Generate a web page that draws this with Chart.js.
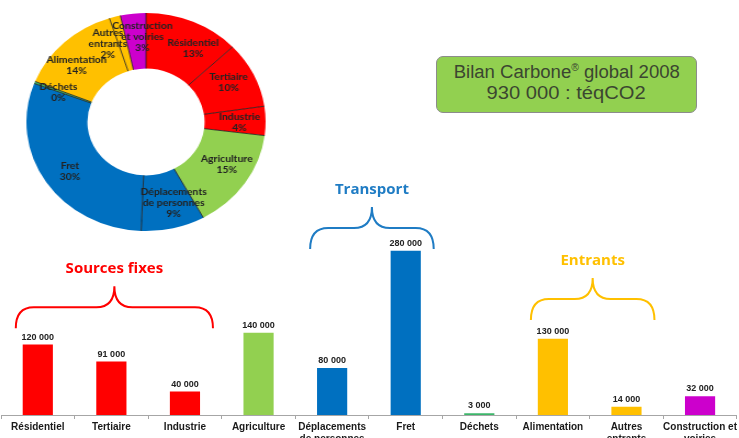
<!DOCTYPE html>
<html>
<head>
<meta charset="utf-8">
<script src="https://cdn.jsdelivr.net/npm/chart.js@4/dist/chart.umd.min.js"></script>
<style>
  html, body { margin: 0; padding: 0; background: #fff; overflow: hidden; }
  #wrap { position: relative; width: 739px; height: 438px; }
  #bars { position: absolute; left: 0; top: 0; }
  #donut { position: absolute; left: 26px; top: 2px; transform: scaleX(1.097); transform-origin: 50% 50%; }
  #bilan {
    position: absolute; left: 436px; top: 56px; width: 259px; height: 50px;
    background: #92d050; border: 1px solid #8c8c8c; border-radius: 7px;
    font-family: 'Liberation Sans', Arial, sans-serif; font-size: 18px; line-height: 21px;
    color: #3b4630; text-align: center; padding-top: 5px; box-sizing: content-box;
  }
  #bilan span { display: inline-block; transform: scaleX(1.03); }
  #bilan span.l2 { transform: scaleX(1.12); }
  #bilan sup { font-size: 10px; line-height: 0; }
</style>
</head>
<body>
<div id="wrap">
  <canvas id="bars" width="739" height="438"></canvas>
  <canvas id="donut" width="240" height="240"></canvas>
  <div id="bilan"><span>Bilan Carbone<sup>®</sup> global 2008</span><br><span class="l2">930 000 : téqCO2</span></div>
</div>
<script>
// postes du bilan (téqCO2)
var categories = [
  'Résidentiel', 'Tertiaire', 'Industrie', 'Agriculture',
  ['Déplacements', 'de personnes'], 'Fret', 'Déchets', 'Alimentation',
  ['Autres', 'entrants'], ['Construction et', 'voiries']
];
var values = [120000, 91000, 40000, 140000, 80000, 280000, 3000, 130000, 14000, 32000];
var colors = ['#ff0000', '#ff0000', '#ff0000', '#92d050', '#0070c0', '#0070c0', '#3cb66a', '#ffc000', '#ffc000', '#cc00cc'];

// étiquettes du camembert
var donutLabels = [
  ['Résidentiel', '13%'], ['Tertiaire', '10%'], ['Industrie', '4%'], ['Agriculture', '15%'],
  ['Déplacements', 'de personnes', '9%'], ['Fret', '30%'], ['Déchets', '0%'], ['Alimentation', '14%'],
  ['Autres', 'entrants', '2%'], ['Construction', 'et voiries', '3%']
];
// décalage angulaire des étiquettes (degrés) pour éviter les chevauchements
var labelShift = [7, -2, 1, -4, -4, -2, -1, -5, -9, 4];

// accolades de regroupement
var groupNames = ['Sources fixes', 'Transport', 'Entrants'];
var groupFrom = [0, 4, 7];
var groupTo = [2, 5, 8];
var groupLevel = [148000, 283000, 162000];
var groupColors = ['#ff0000', '#1f7cc4', '#ffc000'];

function fmt(v) {
  return String(v).replace(/\B(?=(\d{3})+(?!\d))/g, ' ');
}

var barExtras = {
  id: 'barExtras',
  afterDatasetsDraw: function (chart) {
    var ctx = chart.ctx;
    var meta = chart.getDatasetMeta(0);
    ctx.save();
    ctx.fillStyle = '#222';
    ctx.font = 'bold 9px "Liberation Sans", Arial, sans-serif';
    ctx.textAlign = 'center';
    ctx.textBaseline = 'bottom';
    meta.data.forEach(function (bar, i) {
      ctx.fillText(fmt(values[i]), bar.x, bar.y - 3);
    });

    var xs = chart.scales.x, ys = chart.scales.y;
    groupNames.forEach(function (name, g) {
      var x1 = xs.getPixelForValue(groupFrom[g]) - 22;
      var x2 = xs.getPixelForValue(groupTo[g]) + 28;
      var xm = (x1 + x2) / 2;
      var yb = ys.getPixelForValue(groupLevel[g]);
      var yh = yb - 21, yp = yb - 42;
      ctx.strokeStyle = groupColors[g];
      ctx.lineWidth = 2;
      ctx.beginPath();
      ctx.moveTo(x1, yb);
      ctx.quadraticCurveTo(x1, yh, x1 + 18, yh);
      ctx.lineTo(xm - 18, yh);
      ctx.quadraticCurveTo(xm, yh, xm, yp);
      ctx.quadraticCurveTo(xm, yh, xm + 18, yh);
      ctx.lineTo(x2 - 18, yh);
      ctx.quadraticCurveTo(x2, yh, x2, yb);
      ctx.stroke();
      ctx.fillStyle = groupColors[g];
      ctx.font = 'bold 15px "Open Sans", sans-serif';
      ctx.textBaseline = 'middle';
      ctx.fillText(name, xm, yp - 17);
    });
    ctx.restore();
  }
};

new Chart(document.getElementById('bars'), {
  type: 'bar',
  data: {
    labels: categories,
    datasets: [{
      data: values,
      backgroundColor: colors,
      barPercentage: 0.41,
      categoryPercentage: 1
    }]
  },
  options: {
    responsive: false,
    animation: false,
    layout: { padding: { top: 239, left: 1, right: 0, bottom: 0 } },
    plugins: { legend: { display: false }, tooltip: { enabled: false } },
    scales: {
      x: {
        grid: { display: true, drawOnChartArea: false, drawTicks: true, tickLength: 4, color: '#a6a6a6', offset: true },
        border: { color: '#a6a6a6' },
        ticks: {
          color: '#1a1a1a', maxRotation: 0, autoSkip: false, padding: 2,
          font: { family: '"Liberation Sans", Arial, sans-serif', weight: 'bold', size: 10 }
        },
        afterFit: function (scale) { scale.height = 23; }
      },
      y: { display: false, min: 0, max: 300000 }
    }
  },
  plugins: [barExtras]
});

var donutExtras = {
  id: 'donutExtras',
  afterDatasetsDraw: function (chart) {
    var ctx = chart.ctx;
    var meta = chart.getDatasetMeta(0);
    ctx.save();
    ctx.strokeStyle = '#1a1a1a';
    ctx.lineWidth = 0.8;
    meta.data.forEach(function (arc) {
      var p = arc.getProps(['x', 'y', 'startAngle', 'innerRadius', 'outerRadius'], true);
      ctx.beginPath();
      ctx.moveTo(p.x + Math.cos(p.startAngle) * p.innerRadius, p.y + Math.sin(p.startAngle) * p.innerRadius);
      ctx.lineTo(p.x + Math.cos(p.startAngle) * p.outerRadius, p.y + Math.sin(p.startAngle) * p.outerRadius);
      ctx.stroke();
    });
    ctx.fillStyle = '#222';
    ctx.font = 'bold 9.5px Lato, sans-serif';
    ctx.textAlign = 'center';
    ctx.textBaseline = 'middle';
    meta.data.forEach(function (arc, i) {
      var p = arc.getProps(['x', 'y', 'startAngle', 'endAngle', 'innerRadius', 'outerRadius'], true);
      var a = (p.startAngle + p.endAngle) / 2 + labelShift[i] * Math.PI / 180;
      var r = (p.innerRadius + p.outerRadius) / 2 + 4;
      var cx = p.x + Math.cos(a) * r;
      var cy = p.y + Math.sin(a) * r;
      var lines = donutLabels[i];
      var lh = 11;
      var y0 = cy - (lines.length - 1) * lh / 2;
      lines.forEach(function (t, k) {
        ctx.fillText(t, cx, y0 + k * lh);
      });
    });
    ctx.restore();
  }
};

new Chart(document.getElementById('donut'), {
  type: 'doughnut',
  data: {
    labels: donutLabels.map(function (l) { return l[0]; }),
    datasets: [{ data: values, backgroundColor: colors, borderWidth: 0 }]
  },
  options: {
    responsive: false,
    animation: false,
    cutout: '49%',
    layout: { padding: 11 },
    plugins: { legend: { display: false }, tooltip: { enabled: false } }
  },
  plugins: [donutExtras]
});
</script>
</body>
</html>
